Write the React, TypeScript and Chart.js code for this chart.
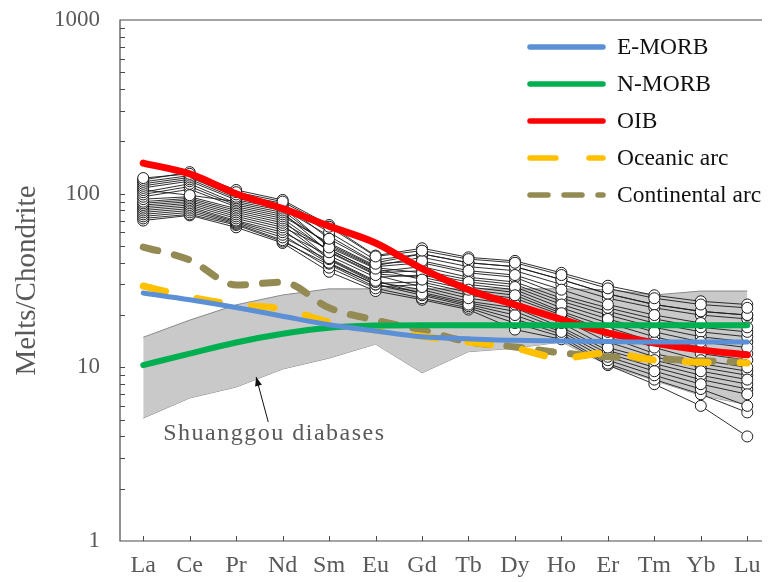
import React, { useEffect, useRef } from "react";
import { Chart, registerables } from "chart.js";

Chart.register(...registerables);

// ---------- data ----------
const elements = ["La", "Ce", "Pr", "Nd", "Sm", "Eu", "Gd", "Tb", "Dy", "Ho", "Er", "Tm", "Yb", "Lu"];
const yTickValues = [1, 10, 100, 1000];

const eMorb = [26.8, 24.5, 22.1, 19.7, 17.6, 16.2, 15.0, 14.6, 14.3, 14.2, 14.1, 14.0, 14.0, 14.0];
const nMorb = [10.3, 12.0, 13.9, 15.6, 16.9, 17.4, 17.5, 17.5, 17.5, 17.5, 17.5, 17.5, 17.5, 17.5];
const oib = [150, 130, 100, 82, 65, 52, 37, 28, 22.9, 18.9, 15.8, 13.8, 12.6, 11.8];
const oceanicArc = [29.4, 25.4, 22.9, 21.7, 18.2, 16.4, 15.1, 14.0, 12.9, 11.3, 12.1, 11.0, 10.7, 10.6];
const continentalArc = [49.3, 41.5, 29.8, 30.9, 22.0, 18.7, 16.4, 14.0, 13.1, 12.1, 11.5, 11.2, 10.9, 10.7];

const diabaseUpper = [14.9, 18.7, 22.9, 26.1, 28.3, 28.3, 28.3, 28.3, 28.3, 28.3, 28.0, 26.1, 27.5, 27.5];
const diabaseLower = [5.1, 6.66, 7.7, 9.78, 11.3, 13.6, 9.3, 12.3, 12.9, 14.0, 10.3, 8.4, 6.9, 6.1];

// Samples (La … Lu), chondrite-normalised
const samples = [
  [123, 130, 102, 90, 64.5, 43.5, 47, 42, 40, 34, 28.5, 25, 23, 22],
  [120, 133, 105, 92, 66, 44, 48.5, 43, 41, 35, 29.5, 26, 24, 23],
  [117, 127, 99, 88, 55, 39.5, 41, 36, 34, 28, 23, 20, 18, 17],
  [114, 124, 96, 86, 60, 41.5, 45, 40, 38, 32, 26.5, 23, 21, 20],
  [111, 121, 94, 84, 49, 37, 32, 28, 26, 20.5, 16, 13, 11, 10],
  [108, 118, 92, 82, 57, 40, 45, 40, 38, 32, 26.5, 23, 21, 20],
  [105, 98, 90, 80, 50, 37.5, 35, 31, 29, 23, 19, 16, 14, 13],
  [102, 114, 88, 78, 46, 34, 29, 25, 23, 18, 13, 11, 9.5, 8.5],
  [99, 110, 86, 76, 51, 38, 40, 35, 33, 26, 22, 19, 17, 16],
  [96, 106, 84, 74, 52, 38.5, 43, 38, 36, 30, 25, 22, 20, 19],
  [93, 96, 82, 72, 46.5, 34.5, 33, 29, 27, 21, 17, 14, 12, 11],
  [90, 94, 80, 70, 42.5, 31.5, 26.5, 23, 20, 16, 11.5, 9.5, 8, 7],
  [88, 92, 78, 68, 47.5, 35.5, 38, 33, 31, 25, 21, 18, 16, 15],
  [86, 90, 76, 66, 42, 31, 28, 24, 22, 17, 12.5, 10.5, 9, 8],
  [84, 88, 74, 64, 48, 35, 36, 32, 30, 24, 20, 17, 15, 14],
  [82, 86, 72, 62, 40, 30, 26, 22.5, 19, 15.5, 11, 9, 7.5, 6],
  [80, 84, 70, 60, 44, 33, 34, 30, 28, 22, 18, 15, 13, 12],
  [78, 82, 69, 58, 39.5, 30, 27, 23.5, 21, 16.5, 12, 10, 8.5, 7.5],
  [76, 80, 68, 56, 41.5, 30.5, 31, 27, 25, 20, 15, 12, 10.5, 9.5],
  [74, 78, 67, 54, 37.5, 28.5, 25, 22, 18, 15, 10.5, 8.5, 7, 5.5],
  [72, 76, 66, 53, 39, 29, 30, 26, 24, 19, 14, 11.5, 10, 9],
  [70, 75, 64, 52, 35.5, 27.5, 24.5, 21.5, 16.5, 14.5, 10.3, 8, 6, 4],
];

const yTitle = "Melts/Chondrite";
const areaLabel = "Shuanggou diabases";

// ---------- styles ----------
const SERIF = "'Liberation Serif', 'Times New Roman', serif";
const TEXT_GREY = "#595959";

const refLines = [
  { label: "E-MORB", data: eMorb, color: "#5B8FD6", width: 5, dash: [] as number[], legendDash: [] as number[] },
  { label: "N-MORB", data: nMorb, color: "#00B050", width: 6, dash: [], legendDash: [] },
  { label: "OIB", data: oib, color: "#FF0000", width: 7, dash: [], legendDash: [] },
  { label: "Oceanic arc", data: oceanicArc, color: "#FFC000", width: 7, dash: [23, 32], legendDash: [26, 33] },
  { label: "Continental arc", data: continentalArc, color: "#948A54", width: 7, dash: [15, 17], legendDash: [18, 16] },
];

const framePlugin = {
  id: "frame",
  afterDraw(chart: any) {
    const { ctx, chartArea: a, scales } = chart;
    const xs = scales.x;
    const ys = scales.y;
    ctx.save();
    ctx.strokeStyle = "#4a4a4a";
    ctx.lineWidth = 1.2;
    ctx.beginPath();
    ctx.moveTo(a.right + 5, a.top);
    ctx.lineTo(a.left, a.top);
    ctx.lineTo(a.left, a.bottom);
    ctx.lineTo(a.right + 5, a.bottom);
    ctx.stroke();
    ctx.lineWidth = 1;
    ctx.beginPath();
    for (let e = 0; e < 3; e++) {
      for (let m = 1; m <= 9; m++) {
        const v = m * Math.pow(10, e);
        if (v <= 1) continue;
        const py = Math.round(ys.getPixelForValue(v)) + 0.5;
        ctx.moveTo(a.left, py);
        ctx.lineTo(a.left + 5, py);
      }
    }
    elements.forEach((_, i) => {
      const px = Math.round(xs.getPixelForValue(i)) + 0.5;
      ctx.moveTo(px, a.bottom);
      ctx.lineTo(px, a.bottom - 5);
    });
    ctx.stroke();
    ctx.restore();
  },
};

const legendPlugin = {
  id: "customLegend",
  afterDraw(chart: any) {
    const { ctx } = chart;
    ctx.save();
    refLines.forEach((r, i) => {
      const y = 39 + i * 37;
      ctx.beginPath();
      ctx.strokeStyle = r.color;
      ctx.lineWidth = 5.5;
      ctx.lineCap = "round";
      ctx.setLineDash(r.legendDash);
      ctx.moveTo(522, y);
      ctx.lineTo(595, y);
      ctx.stroke();
      ctx.setLineDash([]);
      ctx.fillStyle = "#111";
      ctx.font = `23.5px ${SERIF}`;
      ctx.textBaseline = "middle";
      ctx.textAlign = "left";
      ctx.fillText(r.label, 609, y + 1);
    });
    ctx.restore();
  },
};

const annotationPlugin = {
  id: "areaAnnotation",
  afterDatasetsDraw(chart: any) {
    const { ctx, scales } = chart;
    const xs = scales.x;
    const ys = scales.y;
    const sp = xs.getPixelForValue(1) - xs.getPixelForValue(0);
    const x0 = xs.getPixelForValue(0);
    ctx.save();
    ctx.fillStyle = TEXT_GREY;
    ctx.font = `24px ${SERIF}`;
    (ctx as any).letterSpacing = "1.5px";
    ctx.textBaseline = "alphabetic";
    ctx.textAlign = "left";
    ctx.fillText(areaLabel, x0 + 0.43 * sp, ys.getPixelForValue(3.82));
    (ctx as any).letterSpacing = "0px";
    const tx = x0 + 2.43 * sp;
    const ty = ys.getPixelForValue(8.8);
    const fx = x0 + 2.69 * sp;
    const fy = ys.getPixelForValue(4.85);
    ctx.strokeStyle = "#111";
    ctx.fillStyle = "#111";
    ctx.lineWidth = 1;
    ctx.beginPath();
    ctx.moveTo(fx, fy);
    ctx.lineTo(tx, ty);
    ctx.stroke();
    const ang = Math.atan2(ty - fy, tx - fx);
    const L = 9;
    const W = 3.5;
    ctx.beginPath();
    ctx.moveTo(tx, ty);
    ctx.lineTo(tx - L * Math.cos(ang) + W * Math.sin(ang), ty - L * Math.sin(ang) - W * Math.cos(ang));
    ctx.lineTo(tx - L * Math.cos(ang) - W * Math.sin(ang), ty - L * Math.sin(ang) + W * Math.cos(ang));
    ctx.closePath();
    ctx.fill();
    ctx.restore();
  },
};

export default function App() {
  const canvasRef = useRef<HTMLCanvasElement | null>(null);

  useEffect(() => {
    if (!canvasRef.current) return;

    const refDatasets = refLines.map((r, i) => ({
      label: r.label,
      data: r.data,
      borderColor: r.color,
      backgroundColor: r.color,
      borderWidth: r.width,
      borderDash: r.dash,
      borderCapStyle: "round" as const,
      borderJoinStyle: "round" as const,
      cubicInterpolationMode: "monotone" as const,
      pointRadius: 0,
      fill: false,
      order: 1 + i,
    }));

    const areaDatasets = [
      {
        label: "diabase-lower",
        data: diabaseLower,
        borderColor: "#8a8a8a",
        backgroundColor: "#c9c9c9",
        borderWidth: 1,
        pointRadius: 0,
        tension: 0,
        fill: false,
        order: 30,
      },
      {
        label: "diabase-upper",
        data: diabaseUpper,
        borderColor: "#8a8a8a",
        backgroundColor: "#c9c9c9",
        borderWidth: 1,
        pointRadius: 0,
        tension: 0,
        fill: "-1",
        order: 29,
      },
    ];

    const sampleDatasets = samples.map((s, i) => ({
      label: `sample-${i + 1}`,
      data: s,
      borderColor: "#1a1a1a",
      borderWidth: 0.9,
      pointRadius: 5.5,
      pointBackgroundColor: "#ffffff",
      pointBorderColor: "#1a1a1a",
      pointBorderWidth: 1,
      tension: 0,
      fill: false,
      order: 10,
    }));

    const chart = new Chart(canvasRef.current, {
      type: "line",
      data: {
        labels: elements,
        datasets: [...refDatasets, ...areaDatasets, ...sampleDatasets] as any,
      },
      options: {
        animation: false,
        responsive: false,
        maintainAspectRatio: false,
        devicePixelRatio: 1,
        layout: { padding: { top: 12, right: 0, left: 0, bottom: 0 } },
        plugins: {
          legend: { display: false },
          tooltip: { enabled: false },
        },
        scales: {
          x: {
            type: "category",
            offset: true,
            grid: { display: false, drawTicks: false, tickLength: 0 },
            border: { display: false },
            ticks: {
              font: { family: SERIF, size: 24 },
              color: TEXT_GREY,
              padding: 10,
              autoSkip: false,
              maxRotation: 0,
            },
            afterFit: (s: any) => {
              s.height = 41;
              s.paddingLeft = 0;
              s.paddingRight = 0;
            },
          },
          y: {
            type: "logarithmic",
            min: 1,
            max: 1000,
            grid: { display: false, drawTicks: false, tickLength: 0 },
            border: { display: false },
            ticks: {
              font: { family: SERIF, size: 23 },
              color: TEXT_GREY,
              padding: 20,
              callback: (v: any) => String(v),
            },
            afterBuildTicks: (s: any) => {
              s.ticks = yTickValues.map((v) => ({ value: v }));
            },
            afterFit: (s: any) => {
              s.width = 112;
              s.paddingTop = 0;
              s.paddingBottom = 0;
            },
            title: {
              display: true,
              text: yTitle,
              font: { family: SERIF, size: 29 },
              color: TEXT_GREY,
              padding: { top: 2, bottom: 0 },
            },
          },
        },
      },
      plugins: [framePlugin, legendPlugin, annotationPlugin],
    });

    return () => chart.destroy();
  }, []);

  return (
    <div style={{ width: 762, height: 574, overflow: "hidden" }}>
      <canvas
        ref={canvasRef}
        width={769}
        height={574}
        style={{ display: "block", width: 769, height: 574 }}
      />
    </div>
  );
}
